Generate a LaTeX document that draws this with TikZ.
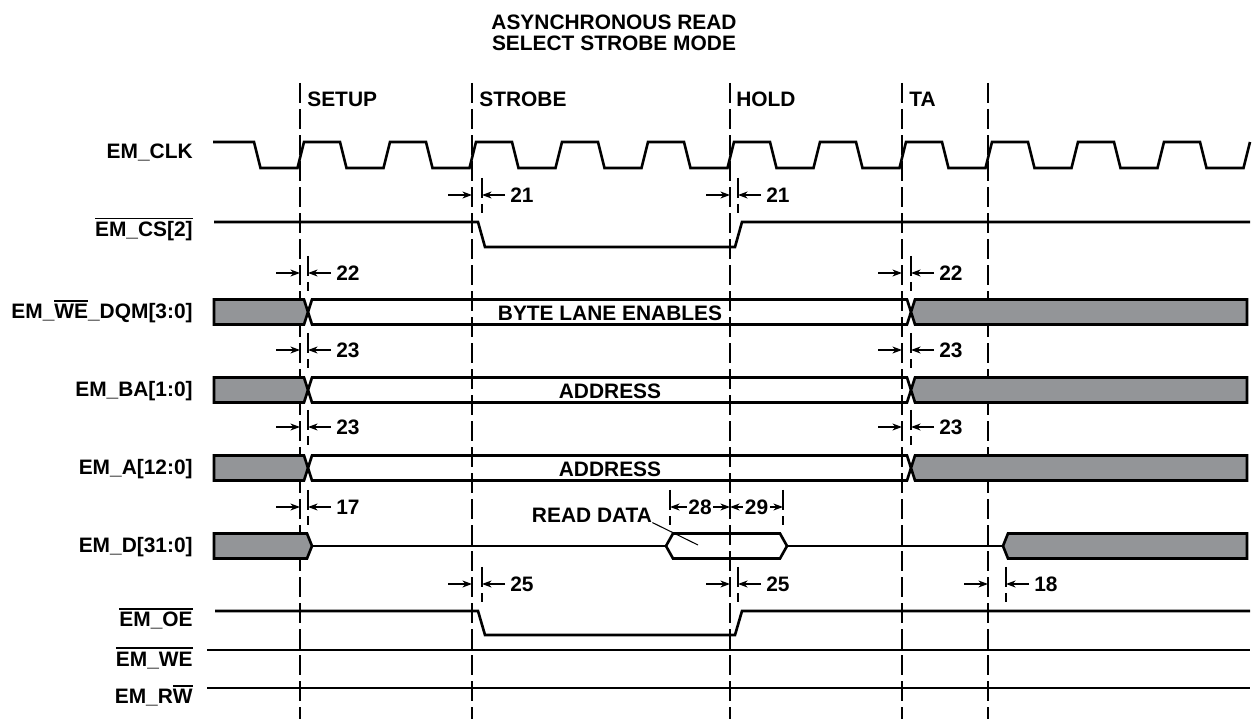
\documentclass[tikz,border=0pt]{standalone}
\usepackage{fontspec}
\setmainfont{Liberation Sans}
\usetikzlibrary{arrows.meta}
\definecolor{busgray}{RGB}{147,149,152}
% bar over an active-low signal name
\def\barsig#1{\leavevmode\vbox{\hrule height 0.8pt\kern 1.6pt\hbox{#1}}}
\tikzset{
  wave/.style={line width=1.5pt,line join=miter},
  guide/.style={line width=0.6pt,dash pattern=on 11.4pt off 3.4pt},
  lbl/.style={font=\fontsize{11.9}{14}\selectfont\bfseries,inner sep=0pt},
  meas/.style={line width=0.6pt,->},
}
\begin{document}
\begin{tikzpicture}[x=0.02cm,y=-0.02cm,>={Stealth[length=5.5pt,width=4pt]}]
  \useasboundingbox (0,0) rectangle (1252,719);
  \def\hi{12.5} % half height of a bus
  % title
  \node[lbl,anchor=base] (title1) at (614,30) {ASYNCHRONOUS READ};
  \node[lbl,anchor=base] (title2) at (614,51) {SELECT STROBE MODE};
  % phase lines
  \foreach \x in {300,472,730,902,988}
    \draw[guide] (\x,83) -- (\x,719);
  \node[lbl,anchor=base west] (setup) at (307,107) {SETUP};
  \node[lbl,anchor=base west] (strobe) at (479,107) {STROBE};
  \node[lbl,anchor=base west] (hold) at (736,107) {HOLD};
  \node[lbl,anchor=base west] (ta) at (909,107) {TA};
  % signal names
  \node[lbl,anchor=base east] (clk) at (193,159) {EM\_CLK};
  \node[lbl,anchor=base east] (cs) at (193,237) {\barsig{EM\_CS[2]}};
  \node[lbl,anchor=base east] (dqm) at (193,319) {EM\_\barsig{WE}\_DQM[3:0]};
  \node[lbl,anchor=base east] (ba) at (193,397) {EM\_BA[1:0]};
  \node[lbl,anchor=base east] (addr) at (193,475) {EM\_A[12:0]};
  \node[lbl,anchor=base east] (data) at (193,553) {EM\_D[31:0]};
  \node[lbl,anchor=base east] (oe) at (193,627) {\barsig{EM\_OE}};
  \node[lbl,anchor=base east] (we) at (193,666) {\barsig{EM\_WE}};
  \node[lbl,anchor=base east] (rw) at (193,704) {EM\_R\barsig{W}};
  % clock
  \draw[wave] (213,142) \foreach \r in {300,386,...,1246} {
    -- (\r-46,142) -- (\r-39.5,168) -- (\r-2.5,168) -- (\r+4,142) };
  % chip select and output enable
  \draw[wave] (214,222) -- (478,222) -- (485,247) -- (735,247) -- (742,222) -- (1250,222);
  \draw[wave] (215,611) -- (478,611) -- (485,635) -- (735,635) -- (742,611) -- (1250,611);
  \draw[wave] (207,650) -- (1250,650);
  \draw[wave] (207,688) -- (1250,688);
  % buses
  \foreach \y/\txt/\nm in {312/BYTE LANE ENABLES/lane,390/ADDRESS/bank,468/ADDRESS/row} {
    \filldraw[wave,fill=busgray] (214,\y-\hi) -- (304,\y-\hi) -- (308,\y) -- (304,\y+\hi) -- (214,\y+\hi) -- cycle;
    \draw[wave] (308,\y) -- (312,\y-\hi) -- (907,\y-\hi) -- (911,\y) -- (907,\y+\hi) -- (312,\y+\hi) -- cycle;
    \filldraw[wave,fill=busgray] (911,\y) -- (915,\y-\hi) -- (1247,\y-\hi) -- (1247,\y+\hi) -- (915,\y+\hi) -- cycle;
    \node[lbl,anchor=base] (\nm) at (610,\y+9) {\txt};
  }
  % data bus
  \filldraw[wave,fill=busgray] (214,533.5) -- (307,533.5) -- (312,546) -- (307,558.5) -- (214,558.5) -- cycle;
  \draw[wave] (312,546) -- (666,546);
  \draw[wave] (666,546) -- (673,533.5) -- (780,533.5) -- (787,546) -- (780,558.5) -- (673,558.5) -- cycle;
  \draw[wave] (787,546) -- (1003,546);
  \filldraw[wave,fill=busgray] (1003,546) -- (1008,533.5) -- (1247,533.5) -- (1247,558.5) -- (1008,558.5) -- cycle;
  \node[lbl] (rd) at (592,515) {READ DATA};
  \draw[line width=0.6pt] (rd.south east) -- (698,545);
  % timing marks: guide x, edge x, y, name, number
  \def\tmark#1#2#3#4#5{
    \draw[meas] (#1-24,#3) -- (#1,#3);
    \draw[meas] (#2+23,#3) -- (#2,#3);
    \draw[guide] (#2,#3-17) -- (#2,#3+18);
    \node[lbl,anchor=west] (#4) at (#2+28,#3) {#5};
  }
  \tmark{472}{482}{195}{t21a}{21}
  \tmark{730}{738}{195}{t21b}{21}
  \tmark{300}{308}{273}{t22a}{22}
  \tmark{902}{911}{273}{t22b}{22}
  \tmark{300}{308}{350}{t23a}{23}
  \tmark{902}{911}{350}{t23b}{23}
  \tmark{300}{308}{427}{t23c}{23}
  \tmark{902}{911}{427}{t23d}{23}
  \tmark{300}{308}{507}{t17}{17}
  \tmark{472}{482}{584}{t25a}{25}
  \tmark{730}{738}{584}{t25b}{25}
  \tmark{988}{1006}{584}{t18}{18}
  % read data window
  \draw[guide] (670,490) -- (670,525);
  \draw[guide] (783,490) -- (783,525);
  \draw[line width=0.6pt,<->] (670,507) -- node[lbl,fill=white,inner sep=1pt] (t28) {28} (730,507);
  \draw[line width=0.6pt,<->] (730,507) -- node[lbl,fill=white,inner sep=1pt] (t29) {29} (783,507);
\end{tikzpicture}
\end{document}
